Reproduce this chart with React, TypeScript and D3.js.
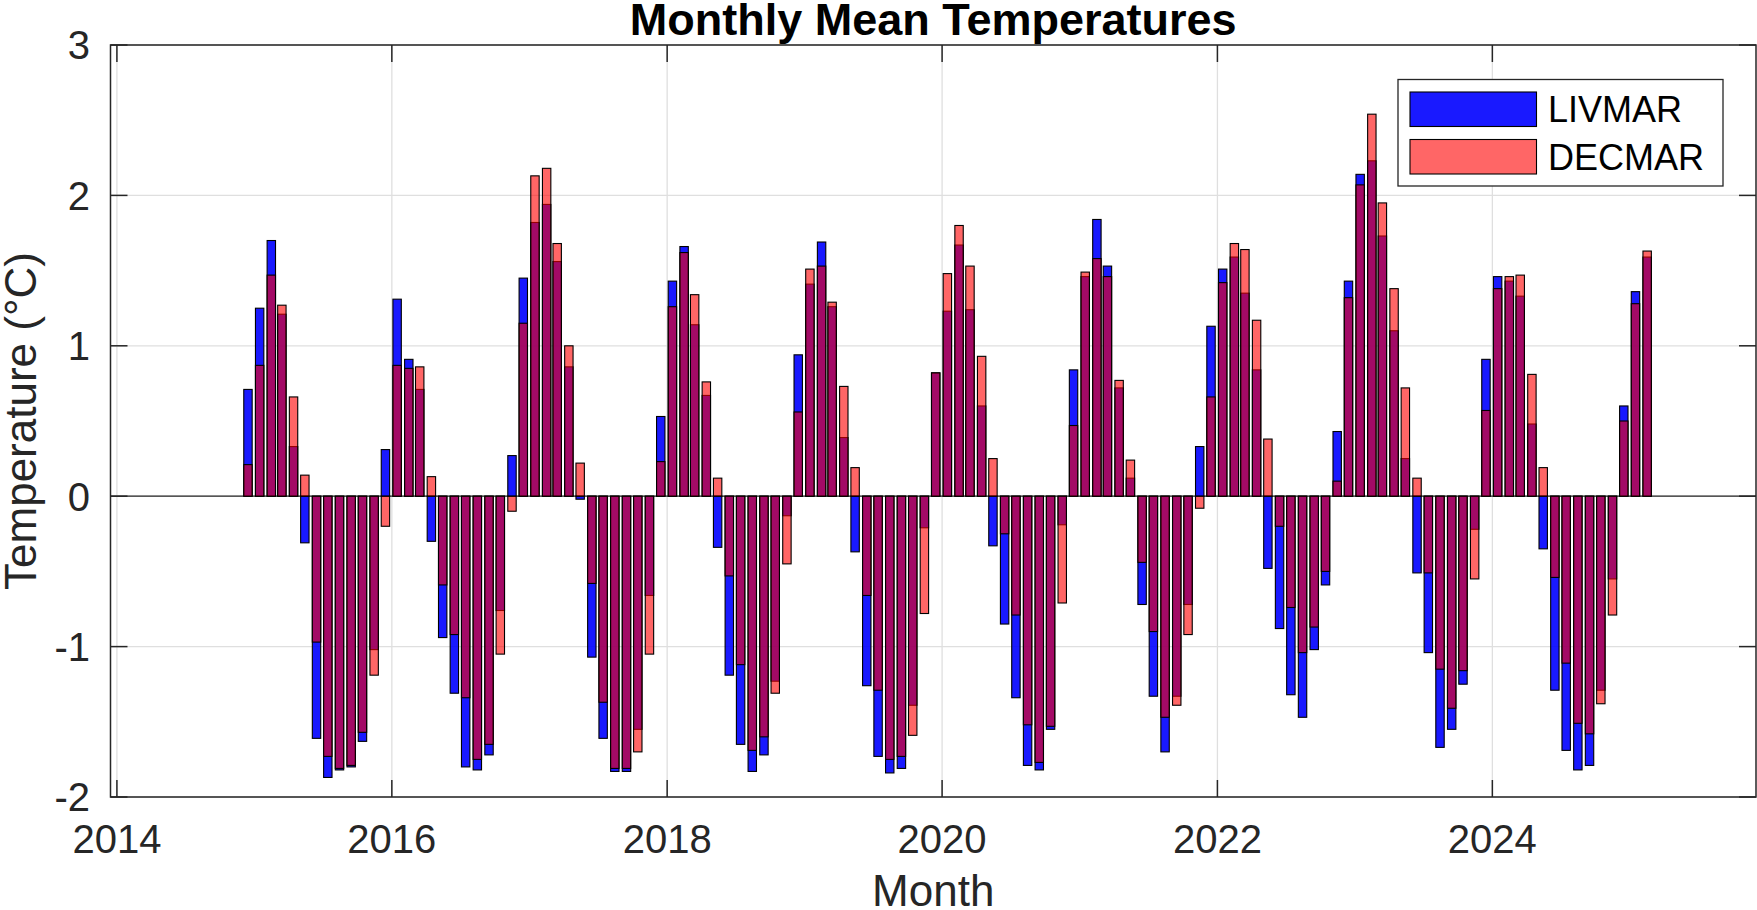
import { useEffect, useRef } from 'react'
import * as d3 from 'd3'

// months run Dec 2014 .. Feb 2025, bars sit on the 15th of each month
const firstMonth = new Date(2014, 11, 15)
const lastMonth = new Date(2025, 1, 15)

const livmar = [
  0.71, 1.25, 1.7, 1.21, 0.33, -0.31, -1.61, -1.87, -1.82, -1.8, -1.63, -1.02,
  0.31, 1.31, 0.91, 0.71, -0.3, -0.94, -1.31, -1.8, -1.82, -1.72, -0.76, 0.27,
  1.45, 1.82, 1.94, 1.56, 0.86, -0.02, -1.07, -1.61, -1.83, -1.83, -1.55, -0.66,
  0.53, 1.43, 1.66, 1.14, 0.67, -0.34, -1.19, -1.65, -1.83, -1.72, -1.23, -0.13,
  0.94, 1.41, 1.69, 1.26, 0.39, -0.37, -1.26, -1.73, -1.84, -1.81, -1.39, -0.21,
  0.82, 1.23, 1.67, 1.24, 0.6, -0.33, -0.85, -1.34, -1.79, -1.82, -1.55, -0.19,
  0.84, 1.46, 1.84, 1.53, 0.72, 0.12, -0.72, -1.33, -1.7, -1.33, -0.72, 0.33,
  1.13, 1.51, 1.59, 1.35, 0.84, -0.48, -0.88, -1.32, -1.47, -1.02, -0.59, 0.43,
  1.43, 2.14, 2.23, 1.73, 1.1, 0.25, -0.51, -1.04, -1.67, -1.55, -1.25, -0.22,
  0.91, 1.46, 1.43, 1.33, 0.48, -0.35, -1.29, -1.69, -1.82, -1.79, -1.29, -0.55,
  0.6, 1.36, 1.59,
]

const decmar = [
  0.21, 0.87, 1.47, 1.27, 0.66, 0.14, -0.97, -1.73, -1.81, -1.79, -1.57, -1.19,
  -0.2, 0.87, 0.85, 0.86, 0.13, -0.59, -0.92, -1.34, -1.75, -1.65, -1.05, -0.1,
  1.15, 2.13, 2.18, 1.68, 1.0, 0.22, -0.58, -1.37, -1.81, -1.81, -1.7, -1.05,
  0.23, 1.26, 1.62, 1.34, 0.76, 0.12, -0.53, -1.12, -1.69, -1.6, -1.31, -0.45,
  0.56, 1.51, 1.53, 1.29, 0.73, 0.19, -0.66, -1.29, -1.75, -1.73, -1.59, -0.78,
  0.82, 1.48, 1.8, 1.53, 0.93, 0.25, -0.25, -0.79, -1.52, -1.77, -1.53, -0.71,
  0.47, 1.49, 1.58, 1.46, 0.77, 0.24, -0.44, -0.9, -1.47, -1.39, -0.92, -0.08,
  0.66, 1.42, 1.68, 1.64, 1.17, 0.38, -0.2, -0.74, -1.04, -0.87, -0.5, 0.1,
  1.32, 2.07, 2.54, 1.95, 1.38, 0.72, 0.12, -0.51, -1.15, -1.41, -1.16, -0.55,
  0.57, 1.38, 1.46, 1.47, 0.81, 0.19, -0.54, -1.11, -1.51, -1.58, -1.38, -0.79,
  0.5, 1.28, 1.63,
]

const xTickYears = [2014, 2016, 2018, 2020, 2022, 2024]
const yTicks = [-2, -1, 0, 1, 2, 3]
const seriesNames = ['LIVMAR', 'DECMAR']

const FONT = "'Liberation Sans', Arial, Helvetica, sans-serif"
const AXIS_COLOR = '#262626'
const GRID_COLOR = '#dfdfdf'
const BLUE = 'rgb(0,0,255)'
const RED = 'rgb(255,0,0)'

const App = () => {
  const svgRef = useRef(null)

  useEffect(() => {
    const width = 1757
    const height = 910
    const left = 110.5
    const right = 1756
    const top = 45
    const bottom = 797
    const tickLen = 17

    const svg = d3.select(svgRef.current)
    svg.selectAll('*').remove()
    svg.attr('width', width).attr('height', height).attr('viewBox', [0, 0, width, height])

    const months = d3.timeMonth
      .range(d3.timeMonth.floor(firstMonth), d3.timeMonth.offset(d3.timeMonth.floor(lastMonth), 1))
      .map((d) => new Date(d.getFullYear(), d.getMonth(), 15))

    const x = d3
      .scaleTime()
      .domain([new Date(2013, 11, 15), new Date(2025, 11, 1)])
      .range([left, right])
    const y = d3.scaleLinear().domain([-2, 3]).range([bottom, top])

    const barW = 8.4

    // white background
    svg.append('rect').attr('width', width).attr('height', height).attr('fill', '#fff')

    // grid
    const grid = svg.append('g').attr('stroke', GRID_COLOR).attr('stroke-width', 1.3)
    xTickYears.forEach((yr) => {
      const px = x(new Date(yr, 0, 1))
      grid.append('line').attr('x1', px).attr('x2', px).attr('y1', top).attr('y2', bottom)
    })
    yTicks.forEach((v) => {
      grid.append('line').attr('x1', left).attr('x2', right).attr('y1', y(v)).attr('y2', y(v))
    })

    // bar baseline
    svg
      .append('line')
      .attr('x1', left)
      .attr('x2', right)
      .attr('y1', y(0))
      .attr('y2', y(0))
      .attr('stroke', AXIS_COLOR)
      .attr('stroke-width', 1.3)

    const drawBars = (values: number[], fill: string, alpha: number) => {
      svg
        .append('g')
        .selectAll('rect')
        .data(values)
        .join('rect')
        .attr('x', (_, i) => x(months[i]) - barW / 2)
        .attr('width', barW)
        .attr('y', (d) => y(Math.max(0, d)))
        .attr('height', (d) => Math.abs(y(d) - y(0)))
        .attr('fill', fill)
        .attr('fill-opacity', alpha)
        .attr('stroke', '#000')
        .attr('stroke-width', 1.1)
    }
    drawBars(livmar, BLUE, 0.9)
    drawBars(decmar, RED, 0.6)

    // axes box
    svg
      .append('rect')
      .attr('x', left)
      .attr('y', top)
      .attr('width', right - left)
      .attr('height', bottom - top)
      .attr('fill', 'none')
      .attr('stroke', AXIS_COLOR)
      .attr('stroke-width', 1.5)

    // ticks, inside on all four sides
    const ticks = svg.append('g').attr('stroke', AXIS_COLOR).attr('stroke-width', 1.5)
    xTickYears.forEach((yr) => {
      const px = x(new Date(yr, 0, 1))
      ticks.append('line').attr('x1', px).attr('x2', px).attr('y1', bottom).attr('y2', bottom - tickLen)
      ticks.append('line').attr('x1', px).attr('x2', px).attr('y1', top).attr('y2', top + tickLen)
    })
    yTicks.forEach((v) => {
      ticks.append('line').attr('x1', left).attr('x2', left + tickLen).attr('y1', y(v)).attr('y2', y(v))
      ticks.append('line').attr('x1', right).attr('x2', right - tickLen).attr('y1', y(v)).attr('y2', y(v))
    })

    // tick labels
    const labels = svg.append('g').attr('font-family', FONT).attr('fill', AXIS_COLOR).attr('font-size', 40)
    xTickYears.forEach((yr) => {
      labels
        .append('text')
        .attr('x', x(new Date(yr, 0, 1)))
        .attr('y', 853)
        .attr('text-anchor', 'middle')
        .text(yr)
    })
    yTicks.forEach((v) => {
      labels
        .append('text')
        .attr('x', 90)
        .attr('y', y(v) + 14.3)
        .attr('text-anchor', 'end')
        .text(v)
    })

    // axis titles
    svg
      .append('text')
      .attr('x', (left + right) / 2)
      .attr('y', 906)
      .attr('text-anchor', 'middle')
      .attr('font-family', FONT)
      .attr('font-size', 44)
      .attr('fill', AXIS_COLOR)
      .text('Month')
    svg
      .append('text')
      .attr('transform', `translate(36, ${(top + bottom) / 2}) rotate(-90)`)
      .attr('text-anchor', 'middle')
      .attr('font-family', FONT)
      .attr('font-size', 44)
      .attr('fill', AXIS_COLOR)
      .text('Temperature (°C)')

    // title
    svg
      .append('text')
      .attr('x', (left + right) / 2)
      .attr('y', 35)
      .attr('text-anchor', 'middle')
      .attr('font-family', FONT)
      .attr('font-size', 45)
      .attr('font-weight', 'bold')
      .attr('fill', '#000')
      .text('Monthly Mean Temperatures')

    // legend
    const legend = svg.append('g')
    legend
      .append('rect')
      .attr('x', 1398)
      .attr('y', 79.5)
      .attr('width', 325)
      .attr('height', 106.5)
      .attr('fill', '#fff')
      .attr('stroke', AXIS_COLOR)
      .attr('stroke-width', 1.3)
    const legendFill = [
      { fill: BLUE, alpha: 0.9 },
      { fill: RED, alpha: 0.6 },
    ]
    seriesNames.forEach((name, i) => {
      const py = 92 + i * 47.5
      legend
        .append('rect')
        .attr('x', 1410)
        .attr('y', py)
        .attr('width', 126.5)
        .attr('height', 34.5)
        .attr('fill', legendFill[i].fill)
        .attr('fill-opacity', legendFill[i].alpha)
        .attr('stroke', '#000')
        .attr('stroke-width', 1.1)
      legend
        .append('text')
        .attr('x', 1548)
        .attr('y', py + 30)
        .attr('font-family', FONT)
        .attr('font-size', 36)
        .attr('fill', '#000')
        .text(name)
    })
  }, [])

  return (
    <div style={{ position: 'absolute', left: 0, top: 0 }}>
      <svg ref={svgRef} style={{ display: 'block' }} />
    </div>
  )
}

export default App
